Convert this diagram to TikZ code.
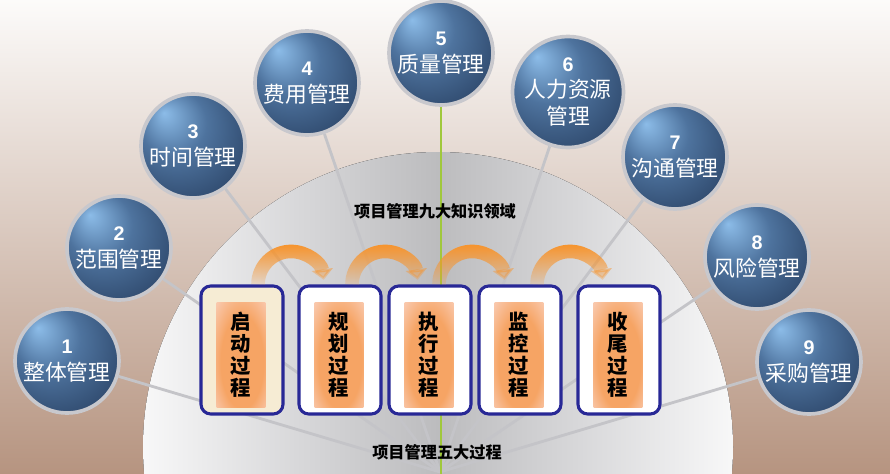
\documentclass[tikz,border=0pt]{standalone}
\usepackage{fontspec}
\newfontfamily\cjk{Noto Sans CJK SC}
\newfontfamily\numfont{Liberation Sans}
\usetikzlibrary{arrows.meta, fadings, backgrounds}
\definecolor{bgtop}{RGB}{252,251,250}
\definecolor{bgbot}{RGB}{182,148,128}
\definecolor{domegray}{RGB}{188,188,190}
\definecolor{domelight}{RGB}{216,216,218}
\definecolor{spokegray}{RGB}{196,196,200}
\definecolor{ringgray}{RGB}{200,200,205}
\definecolor{qgreen}{RGB}{160,200,60}
\definecolor{navyline}{RGB}{40,40,150}
\definecolor{flowarc}{RGB}{247,148,45}
\definecolor{peach}{RGB}{250,214,200}
\definecolor{deeporange}{RGB}{246,164,100}
\definecolor{beige}{RGB}{246,236,212}
\definecolor{ballhi}{RGB}{140,188,232}
\definecolor{ballmid}{RGB}{78,115,158}
\definecolor{balldark}{RGB}{40,64,98}
\pgfdeclareradialshading{knowball}{\pgfpoint{-14bp}{16bp}}{color(0bp)=(ballhi); color(16bp)=(ballmid); color(38bp)=(balldark); color(50bp)=(balldark)}
\pgfdeclarehorizontalshading{domeshade}{100bp}{color(0bp)=(white); color(22bp)=(white); color(38bp)=(domelight); color(50bp)=(domegray); color(62bp)=(domelight); color(78bp)=(white); color(100bp)=(white)}
\pgfdeclareradialshading{procglow}{\pgfpoint{2bp}{-6bp}}{color(0bp)=(deeporange); color(22bp)=(deeporange); color(42bp)=(peach); color(50bp)=(peach)}

\tikzset{
  knowarea/.style={circle, minimum size=2.6cm, inner sep=0pt, draw=ringgray, line width=2.6pt,
    shading=knowball, text=white, align=center, font=\cjk\fontsize{15.5}{19}\selectfont},
  procbox/.style={draw=navyline, line width=2.2pt, rounded corners=7pt, fill=white,
    minimum width=2.05cm, minimum height=3.2cm},
  procin/.style={shading=procglow, minimum width=1.22cm, minimum height=2.62cm,
    inner sep=0pt, align=center, font=\cjk\bfseries\fontsize{14.5}{15.6}\selectfont},
  spoke/.style={draw=spokegray, line width=2pt},
  flowarrow/.style={draw=flowarc, line width=0.34cm, path fading=south, -{Triangle[length=0.26cm, width=0.52cm]}},
  caption/.style={font=\cjk\bfseries\fontsize{11.5}{13}\selectfont}
}
\newcommand{\num}[1]{{\numfont\bfseries\fontsize{14}{16}\selectfont #1}}

\begin{document}
\begin{tikzpicture}[x=0.025cm, y=-0.025cm]
        \useasboundingbox (0,0) rectangle (890,474);
        \clip (0,0) rectangle (890,474);

        % knowledge areas
        \coordinate (hub) at (440,472);
        \coordinate (foot) at (441,474);
        \node[knowarea] at (67,361) (k1) {\num{1}\\整体管理};
        \node[knowarea] at (119,248) (k2) {\num{2}\\范围管理};
        \node[knowarea] at (193,146) (k3) {\num{3}\\时间管理};
        \node[knowarea] at (307,83) (k4) {\num{4}\\费用管理};
        \node[knowarea] at (441,53) (k5) {\num{5}\\质量管理};
        \node[knowarea] at (568,92) (k6) {\num{6}\\人力资源\\管理};
        \node[knowarea] at (675,157) (k7) {\num{7}\\沟通管理};
        \node[knowarea] at (757,257) (k8) {\num{8}\\风险管理};
        \node[knowarea] at (809,362) (k9) {\num{9}\\采购管理};

        \node[caption] at (435,211) (nine) {项目管理九大知识领域};
        \node[caption] at (437,452) (five) {项目管理五大过程};

        % process groups
        \node[procbox, fill=beige] at (242,350) (p1) {};
        \node[procbox] at (340,350) (p2) {};
        \node[procbox] at (430,350) (p3) {};
        \node[procbox] at (520,350) (p4) {};
        \node[procbox] at (619,350) (p5) {};
        \node[procin] at (241,355) (t1) {启\\动\\过\\程};
        \node[procin] at (339,355) (t2) {规\\划\\过\\程};
        \node[procin] at (429,355) (t3) {执\\行\\过\\程};
        \node[procin] at (519,355) (t4) {监\\控\\过\\程};
        \node[procin] at (618,355) (t5) {收\\尾\\过\\程};

        \draw[flowarrow] ([shift={(16,0)}]p1.north) arc[start angle=180, end angle=352, radius=33];
        \draw[flowarrow] ([shift={(12,0)}]p2.north) arc[start angle=180, end angle=352, radius=33];
        \draw[flowarrow] ([shift={(9,0)}]p3.north) arc[start angle=180, end angle=352, radius=33];
        \draw[flowarrow] ([shift={(17,0)}]p4.north) arc[start angle=180, end angle=352, radius=33];

        \begin{scope}[on background layer]
        \fill[top color=bgtop, bottom color=bgbot] (0,0) rectangle (890,474);
        \fill[shading=domeshade] (438,447) circle[radius=295];
        \draw[spoke] (k1) -- (hub);
        \draw[spoke] (k2) -- (hub);
        \draw[spoke] (k3) -- (hub);
        \draw[spoke] (k4) -- (hub);
        \draw[spoke] (k6) -- (hub);
        \draw[spoke] (k7) -- (hub);
        \draw[spoke] (k8) -- (hub);
        \draw[spoke] (k9) -- (hub);
        \draw[qgreen, line width=0.8pt] (k5) -- (foot);
        \end{scope}
\end{tikzpicture}
\end{document}
